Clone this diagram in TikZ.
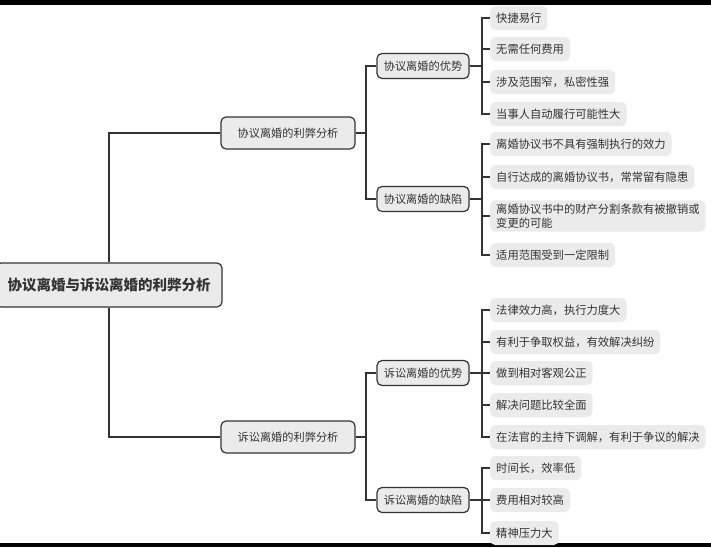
\documentclass[tikz,border=0pt]{standalone}
\usepackage{fontspec}
\setmainfont{Noto Sans CJK SC}
\usepackage{tikz}
\usetikzlibrary{positioning}
\definecolor{ink}{RGB}{51,51,51}
\definecolor{pale}{RGB}{235,235,235}

\begin{document}
\begin{tikzpicture}[x=1pt, y=-1pt,
    branch/.style={draw=ink, line width=1.2pt, fill=pale, rounded corners=5pt, text=ink,
        inner sep=0pt, font=\fontsize{11.2}{13}\selectfont},
    leaf/.style={fill=pale, rounded corners=5pt, anchor=west, text=ink, align=left,
        inner xsep=6pt, minimum height=24pt, font=\fontsize{11.3}{14}\selectfont},
    link/.style={draw=ink, line width=1.2pt}]

\useasboundingbox (0,0) rectangle (711,547);
\fill[black] (0,0) rectangle (711,4.5);
\fill[black] (0,542.5) rectangle (711,547);

        \path
        (109,285) coordinate (c0)
        (288,133) coordinate (c1)
        (288,437) coordinate (c2)
        (366,133) coordinate (h1)
        (366,437) coordinate (h2)
        (423,66) coordinate (c11)
        (423,199) coordinate (c12)
        (423,373) coordinate (c21)
        (423,500) coordinate (c22)
        (482,66) coordinate (h11)
        (482,199) coordinate (h12)
        (482,373) coordinate (h21)
        (482,500) coordinate (h22)
        ;

% root and branches
\node[branch, minimum width=226pt, minimum height=44pt,
      font=\bfseries\fontsize{14.5}{16}\selectfont] (root) at (c0) {协议离婚与诉讼离婚的利弊分析};
\node[branch, minimum width=134pt, minimum height=32pt] (l1) at (c1) {协议离婚的利弊分析};
\node[branch, minimum width=134pt, minimum height=32pt] (l2) at (c2) {诉讼离婚的利弊分析};
\node[branch, minimum width=92pt, minimum height=25pt] (p11) at (c11) {协议离婚的优势};
\node[branch, minimum width=92pt, minimum height=25pt] (p12) at (c12) {协议离婚的缺陷};
\node[branch, minimum width=92pt, minimum height=25pt] (p21) at (c21) {诉讼离婚的优势};
\node[branch, minimum width=92pt, minimum height=25pt] (p22) at (c22) {诉讼离婚的缺陷};

% leaves
\foreach \y/\txt [count=\i] in {18/快捷易行, 49/无需任何费用, 82/涉及范围窄，私密性强, 114/当事人自动履行可能性大}
    \node[leaf] (g\i) at (490,\y) {\txt};
\foreach \y/\txt [count=\i] in {144/离婚协议书不具有强制执行的效力, 177/自行达成的离婚协议书，常常留有隐患,
        216/{离婚协议书中的财产分割条款有被撤销或\\变更的可能}, 255/适用范围受到一定限制}
    \node[leaf] (q\i) at (490,\y) {\txt};
\foreach \y/\txt [count=\i] in {310/法律效力高，执行力度大, 342/有利于争取权益，有效解决纠纷, 373/做到相对客观公正,
        405/解决问题比较全面, 437/在法官的主持下调解，有利于争议的解决}
    \node[leaf] (m\i) at (490,\y) {\txt};
\foreach \y/\txt [count=\i] in {468/时间长，效率低, 500/费用相对较高, 533/精神压力大}
    \node[leaf] (n\i) at (490,\y) {\txt};

% connectors
\draw[link] (root) |- (l1.west);
\draw[link] (root) |- (l2.west);
\draw[link] (l1.east) -- (h1);
\draw[link] (l2.east) -- (h2);
\draw[link] (h1) |- (p11.west);
\draw[link] (h1) |- (p12.west);
\draw[link] (h2) |- (p21.west);
\draw[link] (h2) |- (p22.west);
\foreach \p/\h in {p11/h11, p12/h12, p21/h21, p22/h22}
    \draw[link] (\p.east) -- (\h);
\foreach \i in {1,...,4} \draw[link] (h11) |- (g\i.west);
\foreach \i in {1,...,4} \draw[link] (h12) |- (q\i.west);
\foreach \i in {1,...,5} \draw[link] (h21) |- (m\i.west);
\foreach \i in {1,...,3} \draw[link] (h22) |- (n\i.west);
\end{tikzpicture}
\end{document}
